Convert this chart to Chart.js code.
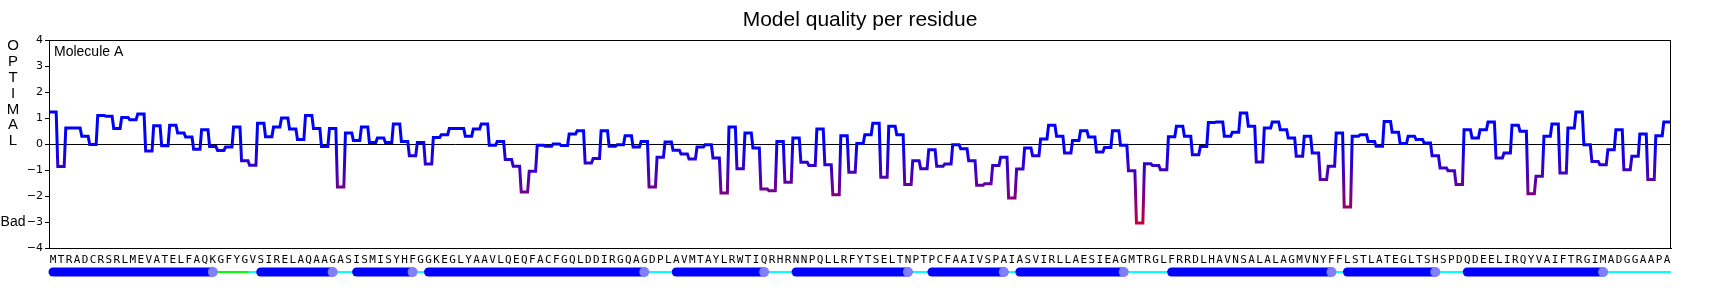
<!DOCTYPE html>
<html>
<head>
<meta charset="utf-8">
<title>Model quality per residue</title>
<script src="https://cdn.jsdelivr.net/npm/chart.js@4.4.0/dist/chart.umd.min.js"></script>
<style>
  html, body { margin: 0; padding: 0; background: #fff; }
  #wrap { width: 1720px; height: 288px; position: relative; }
</style>
</head>
<body>
<div id="wrap"><canvas id="qualityChart"></canvas></div>
<script>
// residue sequence, one letter per x position
const sequence = ('MTRADCRSRLMEVATELFAQKGFYGVSIRELAQAAGASISMISYHFGGKEGLYAAVLQEQFACFGQLDDI' +
  'RGQAGDPLAVMTAYLRWTIQRHRNNPQLLRFYTSELTNPTPCFAAIVSPAIASVIRLLAESIEAGMTRGL' +
  'FRRDLHAVNSALALAGMVNYFFLSTLATEGLTSHSPDQDEELIRQYVAIFTRGIMADGGAAPA').split('');

// quality score per residue
const quality = [
  1.23, -0.87, 0.62, 0.62, 0.30, -0.02, 1.10, 1.07, 0.60, 1.02,
  0.93, 1.15, -0.27, 0.70, -0.07, 0.72, 0.42, 0.27, -0.20, 0.55,
  -0.10, -0.25, -0.12, 0.65, -0.64, -0.82, 0.80, 0.28, 0.65, 1.00,
  0.58, 0.17, 1.10, 0.60, -0.10, 0.60, -1.65, 0.42, 0.13, 0.65,
  0.06, 0.23, 0.06, 0.77, 0.10, -0.45, 0.06, -0.77, 0.25, 0.36,
  0.60, 0.60, 0.30, 0.58, 0.77, -0.05, 0.10, -0.60, -0.86, -1.85,
  -1.05, -0.05, -0.09, 0.00, -0.06, 0.38, 0.51, -0.73, -0.56, 0.51,
  -0.09, -0.03, 0.32, -0.12, 0.10, -1.65, -0.51, 0.08, -0.24, -0.38,
  -0.58, -0.12, -0.03, -0.54, -1.88, 0.65, -0.95, 0.42, -0.15, -1.73,
  -1.80, 0.10, -1.47, 0.23, -0.70, -0.83, 0.58, -0.80, -1.95, 0.32,
  -1.09, 0.02, 0.36, 0.80, -1.28, 0.68, 0.36, -1.56, -0.64, -0.95,
  -0.22, -0.86, -0.77, -0.03, -0.18, -0.64, -1.59, -1.53, -0.83, -0.51,
  -2.08, -0.96, -0.15, -0.45, 0.19, 0.72, 0.30, -0.35, 0.13, 0.51,
  0.27, -0.31, -0.13, 0.51, -0.05, -1.03, -3.04, -0.76, -0.83, -0.99,
  0.28, 0.68, 0.30, -0.41, -0.10, 0.83, 0.85, 0.30, 0.45, 1.19,
  0.68, -0.69, 0.62, 0.85, 0.55, 0.23, -0.47, 0.30, -0.35, -1.37,
  -0.86, 0.42, -2.42, 0.30, 0.36, 0.10, -0.09, 0.87, 0.45, 0.02,
  0.30, 0.17, 0.04, -0.45, -0.92, -1.03, -1.56, 0.55, 0.23, 0.55,
  0.85, -0.54, -0.35, 0.72, 0.49, -1.91, -1.24, 0.30, 0.77, -1.12,
  0.62, 1.23, -0.03, -0.67, -0.80, -0.22, 0.55, -0.99, -0.47, 0.38,
  -1.37, 0.32, 0.85
];

const yTicks = [4, 3, 2, 1, 0, -1, -2, -3, -4];

// secondary structure: helix [first, last] residue, turn segments (green)
const helices = [[0, 20], [26, 35], [38, 45], [47, 74], [78, 89], [93, 107],
  [110, 119], [121, 134], [140, 160], [162, 173], [177, 194]];
const turns = [[20.5, 24.5]];

const sideLetters = ['O', 'P', 'T', 'I', 'M', 'A', 'L'];

// each residue is drawn as a short flat step
const stepPoints = [];
quality.forEach((v, i) => {
  stepPoints.push({ x: i - 0.4, y: v });
  stepPoints.push({ x: i + 0.4, y: v });
});

function qualityGradient(context) {
  const chart = context.chart;
  if (!chart.chartArea) return '#0000ff';
  const y = chart.scales.y;
  const g = chart.ctx.createLinearGradient(0, y.getPixelForValue(0), 0, y.getPixelForValue(-4));
  g.addColorStop(0, '#0000ff');
  g.addColorStop(1, '#ff0000');
  return g;
}

// frame, side labels, title and the secondary structure strip
const decorations = {
  id: 'decorations',
  afterDraw(chart) {
    const c = chart.ctx;
    const area = chart.chartArea;
    const x = chart.scales.x;
    const y = chart.scales.y;
    c.save();

    c.strokeStyle = '#000';
    c.lineWidth = 1;
    c.strokeRect(Math.round(area.left) + 0.5, Math.round(area.top) + 0.5,
      Math.round(area.right - area.left) - 1, Math.round(area.bottom - area.top));

    c.fillStyle = '#000';
    c.textBaseline = 'middle';
    c.textAlign = 'center';
    c.font = '21px "Liberation Sans", Arial, sans-serif';
    c.fillText('Model quality per residue', (area.left + area.right) / 2, 20);

    c.font = '15px "Liberation Sans", Arial, sans-serif';
    sideLetters.forEach((l, k) => {
      c.fillText(l, 13, y.getPixelForValue(3.78 - k * 0.612));
    });
    c.font = '14px "Liberation Sans", Arial, sans-serif';
    c.fillText('Bad', 13, y.getPixelForValue(-3));

    c.textAlign = 'left';
    c.fillText('Molecule A', area.left + 5, area.top + 12);

    // secondary structure strip below the sequence
    const sy = area.bottom + 24;
    c.lineCap = 'butt';
    c.lineWidth = 2;
    c.strokeStyle = '#00ffff';
    c.beginPath();
    c.moveTo(x.getPixelForValue(helices[0][1]), sy);
    c.lineTo(area.right, sy);
    c.stroke();
    c.strokeStyle = '#00ff00';
    turns.forEach(t => {
      c.beginPath();
      c.moveTo(x.getPixelForValue(t[0]), sy);
      c.lineTo(x.getPixelForValue(t[1]), sy);
      c.stroke();
    });
    c.lineCap = 'round';
    c.lineWidth = 9;
    c.strokeStyle = '#0000ff';
    helices.forEach(h => {
      c.beginPath();
      c.moveTo(x.getPixelForValue(h[0]), sy);
      c.lineTo(x.getPixelForValue(h[1]), sy);
      c.stroke();
    });
    c.fillStyle = '#8080ff';
    helices.forEach(h => {
      c.beginPath();
      c.arc(x.getPixelForValue(h[1]), sy, 5, 0, Math.PI * 2);
      c.fill();
    });
    c.restore();
  }
};

Chart.defaults.color = '#000';

const qualityChart = new Chart(document.getElementById('qualityChart'), {
  type: 'line',
  data: {
    datasets: [{
      data: stepPoints,
      borderColor: qualityGradient,
      borderWidth: 3,
      borderJoinStyle: 'miter',
      pointRadius: 0,
      tension: 0,
      fill: false
    }]
  },
  options: {
    responsive: true,
    maintainAspectRatio: false,
    animation: false,
    layout: { padding: { top: 40, right: 49, bottom: 0, left: 0 } },
    plugins: {
      legend: { display: false },
      title: { display: false },
      tooltip: { enabled: false }
    },
    scales: {
      x: {
        type: 'linear',
        min: -0.5,
        max: sequence.length - 0.5,
        afterFit: scale => { scale.height = 40; },
        afterBuildTicks: scale => { scale.ticks = sequence.map((_, i) => ({ value: i })); },
        grid: { display: false, drawTicks: false },
        border: { display: true, color: '#000' },
        ticks: {
          autoSkip: false,
          maxRotation: 0,
          minRotation: 0,
          padding: 6,
          font: { family: '"DejaVu Sans Mono", monospace', size: 11 },
          callback: v => sequence[v] || ''
        }
      },
      y: {
        min: -4,
        max: 4,
        afterFit: scale => { scale.width = 49; },
        afterBuildTicks: scale => { scale.ticks = yTicks.map(v => ({ value: v })); },
        grid: {
          color: c => (c.tick && c.tick.value === 0 ? '#000' : 'rgba(0,0,0,0)'),
          tickColor: '#000',
          tickLength: 4,
          lineWidth: 1
        },
        border: { display: true, color: '#000' },
        ticks: {
          padding: 2,
          font: { family: '"DejaVu Sans", sans-serif', size: 11 },
          callback: v => (v < 0 ? '\u2212' + Math.abs(v) : String(v))
        }
      }
    }
  },
  plugins: [decorations]
});
</script>
</body>
</html>
